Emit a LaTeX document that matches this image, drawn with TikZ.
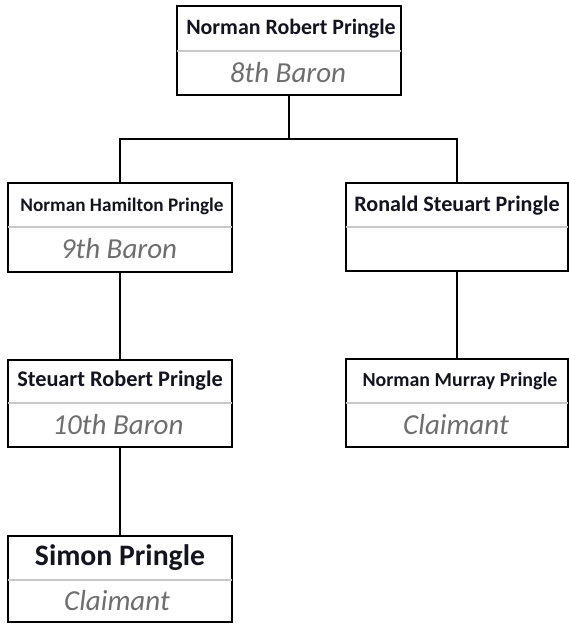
\documentclass[tikz,border=0pt]{standalone}
\usepackage{fontspec}
\setmainfont{Carlito}
\definecolor{titlegray}{HTML}{6E6E6E}
\definecolor{divgray}{HTML}{C8C8C8}
\definecolor{namecol}{HTML}{141420}
\tikzset{
  famebox/.style={draw=black, line width=2pt, fill=white, rectangle, inner sep=0pt},
  divline/.style={draw=divgray, line width=1.4pt},
  link/.style={draw=black, line width=2pt},
  nametext/.style={text=namecol, font=\bfseries, inner sep=0pt, anchor=center},
  titletext/.style={text=titlegray, font=\itshape, inner sep=0pt, anchor=center},
}
\newcommand{\fsz}[1]{\fontsize{#1}{#1}\selectfont}
\begin{document}
\begin{tikzpicture}[x=1pt,y=-1pt]
\useasboundingbox (0,0) rectangle (569,626);
\coordinate (bar) at (289,139);
% boxes
\node[famebox, minimum width=224pt, minimum height=89pt] (top) at (289,50.5) {};
\node[famebox, minimum width=224pt, minimum height=89pt] (l1) at (120,227.5) {};
\node[famebox, minimum width=222pt, minimum height=88pt] (r1) at (457,227) {};
\node[famebox, minimum width=224pt, minimum height=87pt] (l2) at (120,403.5) {};
\node[famebox, minimum width=222pt, minimum height=88pt] (r2) at (457,403) {};
\node[famebox, minimum width=224pt, minimum height=86pt] (l3) at (120,579) {};
% links
\draw[link] (top.south) -- (top.south |- bar);
\draw[link] (l1.north) |- (bar) -| (r1.north);
\draw[link] (l1.south) -- (l2.north);
\draw[link] (r1.south) -- (r2.north);
\draw[link] (l2.south) -- (l3.north);
% dividers
\draw[divline] ([xshift=1pt]top.west |- 0,51) -- ([xshift=-1pt]top.east |- 0,51);
\draw[divline] ([xshift=1pt]l1.west |- 0,227) -- ([xshift=-1pt]l1.east |- 0,227);
\draw[divline] ([xshift=1pt]r1.west |- 0,227) -- ([xshift=-1pt]r1.east |- 0,227);
\draw[divline] ([xshift=1pt]l2.west |- 0,403) -- ([xshift=-1pt]l2.east |- 0,403);
\draw[divline] ([xshift=1pt]r2.west |- 0,403) -- ([xshift=-1pt]r2.east |- 0,403);
\draw[divline] ([xshift=1pt]l3.west |- 0,580) -- ([xshift=-1pt]l3.east |- 0,580);
% texts
\node[nametext, font=\bfseries\fsz{21.9}] (topn) at (291,29) {Norman Robert Pringle};
\node[titletext, font=\itshape\fsz{29}] (topt) at (288,73) {8th Baron};
\node[nametext, font=\bfseries\fsz{19.2}] (l1n) at (122,206) {Norman Hamilton Pringle};
\node[titletext, font=\itshape\fsz{29}] (l1t) at (119,249) {9th Baron};
\node[nametext, font=\bfseries\fsz{22.1}] (r1n) at (457,206) {Ronald Steuart Pringle};
\node[nametext, font=\bfseries\fsz{22.3}] (l2n) at (120,381) {Steuart Robert Pringle};
\node[titletext, font=\itshape\fsz{29}] (l2t) at (118,425) {10th Baron};
\node[nametext, font=\bfseries\fsz{19.9}] (r2n) at (460,381) {Norman Murray Pringle};
\node[titletext, font=\itshape\fsz{29}] (r2t) at (456,425) {Claimant};
\node[nametext, font=\bfseries\fsz{29.7}] (l3n) at (120,558) {Simon Pringle};
\node[titletext, font=\itshape\fsz{29}] (l3t) at (117,601) {Claimant};
\end{tikzpicture}
\end{document}
